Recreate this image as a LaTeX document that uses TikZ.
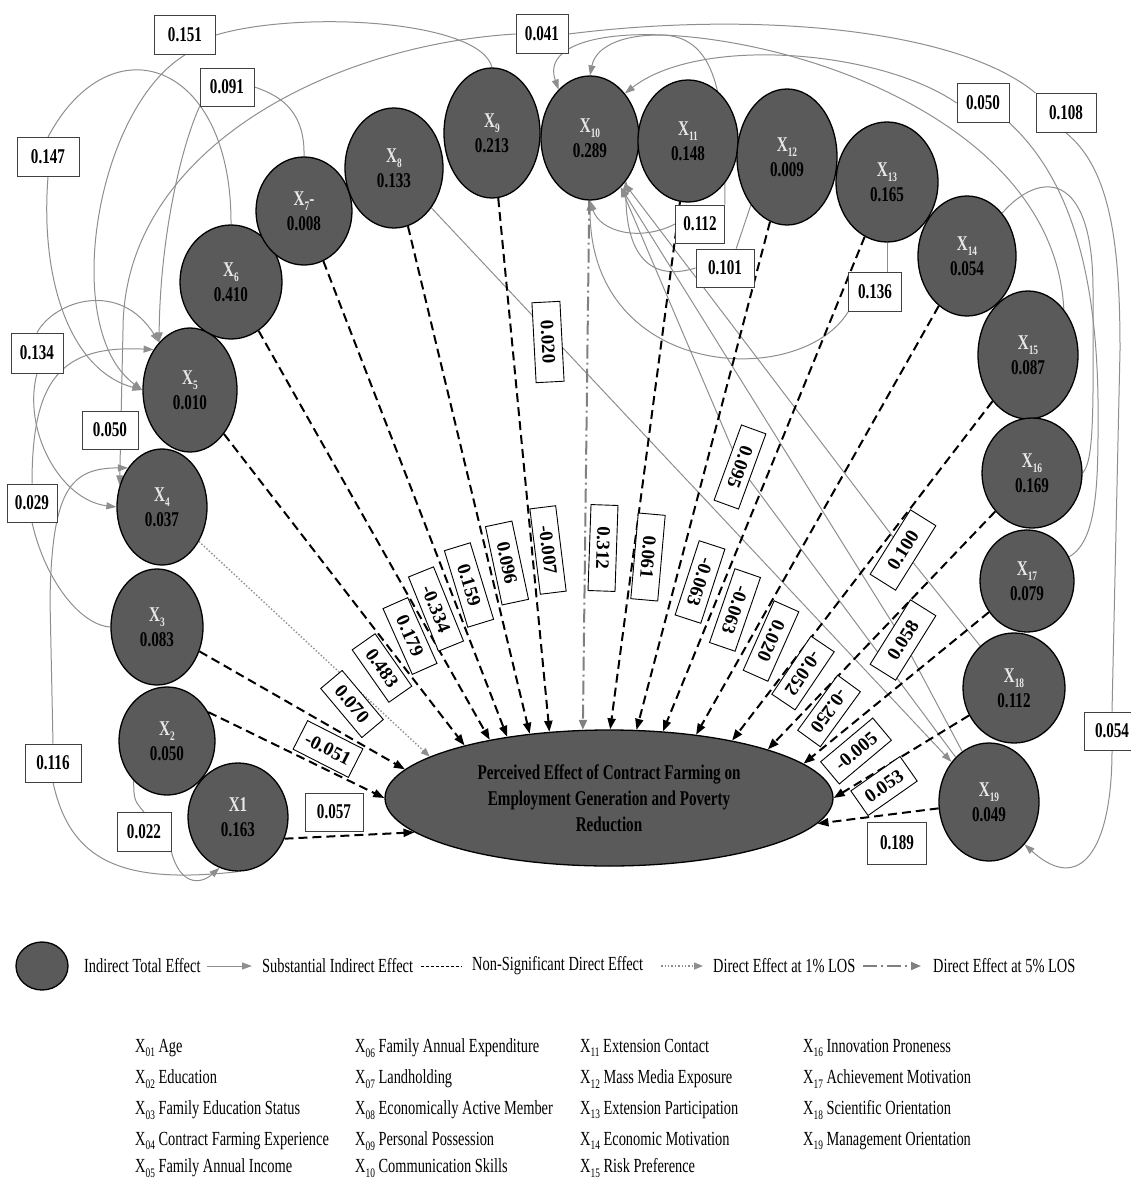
\documentclass[tikz,border=0pt]{standalone}
\usepackage{fontspec}
\setmainfont{Liberation Serif}
\newfontfamily\narrowf{Liberation Serif}[FakeStretch=0.72]
\usetikzlibrary{shapes.geometric,arrows.meta,backgrounds}
\definecolor{vgray}{HTML}{5A5A5A}
\definecolor{lgray}{HTML}{8E8E8E}
\definecolor{xlab}{HTML}{E8E8E8}
\newcommand{\xsub}[1]{X\raisebox{-0.5ex}{\fontsize{13}{13}\selectfont #1}}

\begin{document}
\begin{tikzpicture}[x=1pt,y=-1pt]
    \tikzstyle{var}=[shape=ellipse,draw=black,line width=1.3pt,fill=vgray,inner sep=0pt,align=center,font=\narrowf\bfseries\fontsize{21}{25}\selectfont]
    \tikzstyle{ibox}=[draw=black!75,fill=white,line width=0.8pt,inner sep=0pt,font=\narrowf\bfseries\fontsize{21}{21}\selectfont]
    \tikzstyle{fbox}=[draw=black,fill=white,line width=0.9pt,inner sep=0pt,minimum width=80pt,minimum height=28pt,font=\bfseries\fontsize{19}{19}\selectfont]
    \tikzstyle{direct}=[black,line width=2pt,dash pattern=on 9pt off 5pt,-{Triangle[length=11pt,width=8pt]}]
    \tikzstyle{ind}=[lgray,line width=1pt]
    \tikzstyle{indarr}=[ind,-{Triangle[length=10pt,width=7pt]}]
    \tikzstyle{sig1}=[lgray,line width=1.4pt,dotted,-{Triangle[length=9pt,width=7pt]}]
    \tikzstyle{sig5}=[gray,line width=2pt,dash pattern=on 14pt off 4pt on 2pt off 4pt,-{Triangle[length=10pt,width=8pt]}]
    \tikzstyle{lgfont}=[inner sep=0pt,font=\narrowf\fontsize{20}{24}\selectfont]
    \tikzstyle{vlist}=[anchor=west,inner sep=0pt,font=\narrowf\fontsize{20}{24}\selectfont]

    \useasboundingbox (0,0) rectangle (1130,1182);

    \node[var,minimum width=100pt,minimum height=108pt] at (238,817) (x1) {{\color{xlab}X1}\\0.163};
    \node[var,minimum width=96pt,minimum height=108pt] at (167,741) (x2) {{\color{xlab}\xsub{2}}\\0.050};
    \node[var,minimum width=92pt,minimum height=116pt] at (157,627) (x3) {{\color{xlab}\xsub{3}}\\0.083};
    \node[var,minimum width=90pt,minimum height=116pt] at (162,507) (x4) {{\color{xlab}\xsub{4}}\\0.037};
    \node[var,minimum width=94pt,minimum height=124pt] at (190,390) (x5) {{\color{xlab}\xsub{5}}\\0.010};
    \node[var,minimum width=102pt,minimum height=114pt] at (231,282) (x6) {{\color{xlab}\xsub{6}}\\0.410};
    \node[var,minimum width=96pt,minimum height=108pt] at (304,211) (x7) {{\color{xlab}\xsub{7}-}\\0.008};
    \node[var,minimum width=98pt,minimum height=120pt] at (394,168) (x8) {{\color{xlab}\xsub{8}}\\0.133};
    \node[var,minimum width=96pt,minimum height=130pt] at (492,133) (x9) {{\color{xlab}\xsub{9}}\\0.213};
    \node[var,minimum width=98pt,minimum height=124pt] at (590,138) (x10) {{\color{xlab}\xsub{10}}\\0.289};
    \node[var,minimum width=100pt,minimum height=122pt] at (688,141) (x11) {{\color{xlab}\xsub{11}}\\0.148};
    \node[var,minimum width=100pt,minimum height=136pt] at (787,157) (x12) {{\color{xlab}\xsub{12}}\\0.009};
    \node[var,minimum width=102pt,minimum height=120pt] at (887,182) (x13) {{\color{xlab}\xsub{13}}\\0.165};
    \node[var,minimum width=98pt,minimum height=120pt] at (967,256) (x14) {{\color{xlab}\xsub{14}}\\0.054};
    \node[var,minimum width=100pt,minimum height=128pt] at (1028,355) (x15) {{\color{xlab}\xsub{15}}\\0.087};
    \node[var,minimum width=100pt,minimum height=110pt] at (1032,473) (x16) {{\color{xlab}\xsub{16}}\\0.169};
    \node[var,minimum width=94pt,minimum height=102pt] at (1027,581) (x17) {{\color{xlab}\xsub{17}}\\0.079};
    \node[var,minimum width=102pt,minimum height=110pt] at (1014,688) (x18) {{\color{xlab}\xsub{18}}\\0.112};
    \node[var,minimum width=100pt,minimum height=118pt] at (989,802) (x19) {{\color{xlab}\xsub{19}}\\0.049};

    \node[var,minimum width=448pt,minimum height=136pt,font=\narrowf\bfseries\fontsize{21}{26}\selectfont] at (609,798) (pe) {Perceived Effect of Contract Farming on\\Employment Generation and Poverty\\Reduction};

    \node[ibox,minimum width=61pt,minimum height=39pt] at (185,35) (b151) {0.151};
    \node[ibox,minimum width=54pt,minimum height=38pt] at (227,87) (b091) {0.091};
    \node[ibox,minimum width=62pt,minimum height=39pt] at (48,157) (b147) {0.147};
    \node[ibox,minimum width=52pt,minimum height=40pt] at (37,353) (b134) {0.134};
    \node[ibox,minimum width=56pt,minimum height=38pt] at (110,430) (b050l) {0.050};
    \node[ibox,minimum width=50pt,minimum height=38pt] at (32,503) (b029) {0.029};
    \node[ibox,minimum width=56pt,minimum height=38pt] at (53,763) (b116) {0.116};
    \node[ibox,minimum width=54pt,minimum height=39pt] at (144,832) (b022) {0.022};
    \node[ibox,minimum width=52pt,minimum height=39pt] at (542,34) (b041) {0.041};
    \node[ibox,minimum width=52pt,minimum height=39pt] at (983,103) (b050r) {0.050};
    \node[ibox,minimum width=60pt,minimum height=39pt] at (1066,113) (b108) {0.108};
    \node[ibox,minimum width=49pt,minimum height=38pt] at (700,224) (b112) {0.112};
    \node[ibox,minimum width=58pt,minimum height=38pt] at (725,268) (b101) {0.101};
    \node[ibox,minimum width=53pt,minimum height=39pt] at (875,292) (b136) {0.136};
    \node[ibox,minimum width=56pt,minimum height=38pt] at (1112,731) (b054) {0.054};
    \node[fbox,rotate=-87] at (548,342) (b020) {0.020};
    \node[fbox,rotate=-110,minimum height=26pt] at (740,467) (b095) {0.095};
    \node[fbox,rotate=58,minimum width=76pt,minimum height=30pt] at (903,550) (b100) {0.100};
    \node[fbox,rotate=58,minimum width=76pt,minimum height=30pt] at (903,640) (b058) {0.058};

    \node[ibox,minimum width=58pt,minimum height=38pt] at (334,812) (d1) {0.057};
    \node[fbox,rotate=-27,minimum width=62pt,minimum height=32pt] at (328,749) (d2) {-0.051};
    \node[fbox,rotate=-50,minimum width=64pt,minimum height=28pt] at (352,704) (d3) {0.070};
    \node[fbox,rotate=-55,minimum width=64pt,minimum height=28pt] at (382,668) (d4) {0.483};
    \node[fbox,rotate=-66,minimum width=72pt,minimum height=27pt] at (410,636) (d5) {0.179};
    \node[fbox,rotate=-68,minimum height=27pt] at (436,609) (d6) {-0.334};
    \node[fbox,rotate=-73,minimum height=27pt] at (469,585) (d7) {0.159};
    \node[fbox,rotate=-78,minimum height=27pt] at (507,563) (d8) {0.096};
    \node[fbox,rotate=-83,minimum width=86pt,minimum height=26pt] at (548,550) (d9) {-0.007};
    \node[fbox,rotate=-92,minimum width=86pt,minimum height=27pt] at (603,548) (d10) {0.312};
    \node[fbox,rotate=-95,minimum width=86pt,minimum height=27pt] at (648,557) (d11) {0.061};
    \node[fbox,rotate=-108,minimum width=78pt,minimum height=27pt] at (700,582) (d12) {-0.063};
    \node[fbox,rotate=-109,minimum width=78pt,minimum height=27pt] at (735,610) (d13) {-0.063};
    \node[fbox,rotate=-114,minimum width=76pt,minimum height=27pt] at (771,641) (d14) {0.020};
    \node[fbox,rotate=-124,minimum width=70pt,minimum height=28pt] at (803,673) (d15) {-0.052};
    \node[fbox,rotate=-126,minimum width=68pt,minimum height=28pt] at (829,711) (d16) {-0.250};
    \node[fbox,rotate=40,minimum width=68pt,minimum height=29pt] at (856,751) (d17) {-0.005};
    \node[fbox,rotate=35,minimum width=60pt,minimum height=30pt] at (884,786) (d18) {0.053};
    \node[ibox,minimum width=59pt,minimum height=42pt] at (897,843) (d19) {0.189};

    \begin{pgfonlayer}{background}
    \draw[ind] (x9.north) .. controls (480,20) and (300,10) .. (b151.east);
    \draw[indarr] (b151.south) .. controls (95,110) and (60,330) .. (x5.west);
    \draw[ind] (x6.north) .. controls (232,60) and (110,20) .. (b147.north);
    \draw[indarr] (b147.south) .. controls (40,280) and (70,370) .. (x5.west);
    \draw[ind] (x7.north) .. controls (305,115) and (285,97) .. (b091.east);
    \draw[indarr] (b091.south west) .. controls (180,150) and (160,240) .. (x5.123);
    \draw[indarr] (b041.west) .. controls (330,45) and (123,150) .. (123,330) -- (x4.153);
    \draw[ind] (b108.north west) .. controls (960,30) and (760,10) .. (b041.east);
    \draw[ind] (b108.south) .. controls (1112,170) and (1120,250) .. (1120,350) -- (b054.north);
    \draw[indarr] (b054.south) .. controls (1112,850) and (1080,895) .. (x19.-50);
    \draw[indarr] (b134.north) .. controls (55,300) and (120,280) .. (x5.123);
    \draw[indarr] (b134.south) .. controls (22,430) and (60,500) .. (x4.west);
    \draw[ind] (x3.west) .. controls (80,625) and (45,580) .. (b029.south);
    \draw[indarr] (b029.north) .. controls (32,380) and (60,345) .. (x5.132);
    \draw[ind] (x1.south) .. controls (120,885) and (70,860) .. (b116.south);
    \draw[indarr] (b116.north) -- (50,600) .. controls (52,490) and (70,468) .. (x4.131);
    \draw[ind] (x2.230) .. controls (134,800) .. (b022.north);
    \draw[indarr] (b022.south east) .. controls (180,885) and (200,885) .. (x1.-110);
    \draw[ind] (x17.30) .. controls (1100,540) and (1098,470) .. (1098,400) .. controls (1096,250) and (1060,170) .. (b050r.south east);
    \draw[indarr] (b050r.west) .. controls (880,50) and (700,35) .. (x10.52);
    \draw[indarr] (x15.north east) .. controls (1050,40) and (520,-20) .. (x10.123);
    \draw[ind] (x14.north east) .. controls (1040,170) and (1093,170) .. (1093,290) .. controls (1093,400) and (1095,460) .. (x16.east);
    \draw[indarr] (b112.west) .. controls (640,242) and (600,232) .. (x10.south);
    \draw[indarr] (b112.north east) .. controls (725,110) and (722,35) .. (660,35) .. controls (615,35) and (595,50) .. (x10.north);
    \draw[ind] (x12.233) -- (b101.60);
    \draw[indarr] (b101.west) .. controls (640,285) and (625,240) .. (x10.-50);
    \draw[ind] (x13.south) -- (b136.north -| x13.south);
    \draw[indarr] (b136.south west) .. controls (800,390) and (590,380) .. (x10.south);
    \draw[indarr] (x8) -- (x19);
    \draw[indarr] (x18) -- (b100) -- (x10);
    \draw[indarr] (x19) -- (b058) -- (x10);
    \draw[indarr] (x19) -- (b095) -- (x10.-58);

    \draw[direct] (x1.-25) -- (pe.190);
    \draw[direct] (x2.35) -- (pe.180);
    \draw[direct] (x3) -- (pe.172);
    \draw[sig1] (x4) -- (pe.167);
    \draw[direct] (x5) -- (pe.160);
    \draw[direct] (x6) -- (pe.154);
    \draw[direct] (x7) -- (pe.149);
    \draw[direct] (x8) -- (pe.141);
    \draw[direct] (x9) -- (pe.132);
    \draw[sig5] (x10) -- (pe.111);
    \draw[direct] (x11) -- (pe.89);
    \draw[direct] (x12) -- (pe.68);
    \draw[direct] (x13) -- (pe.51);
    \draw[direct] (x14) -- (pe.36);
    \draw[direct] (x15) -- (pe.25);
    \draw[direct] (x16) -- (pe.17);
    \draw[direct] (x17) -- (pe.10);
    \draw[direct] (x18) -- (pe.0);
    \draw[direct] (x19) -- (pe.-7);
    \end{pgfonlayer}

    \node[var,minimum width=52pt,minimum height=48pt] at (42,966) (lg0) {};
    \node[lgfont,anchor=west] at (84,966) (lg1) {Indirect Total Effect};
    \node[lgfont,anchor=west] at (262,966) (lg2) {Substantial Indirect Effect};
    \node[lgfont,anchor=west] at (472,966) (lg3) {Non-Significant Direct Effect};
    \node[lgfont,anchor=west] at (713,966) (lg4) {Direct Effect at 1\% LOS};
    \node[lgfont,anchor=west] at (933,966) (lg5) {Direct Effect at 5\% LOS};
    \draw[indarr] ([xshift=6pt]lg1.east) -- ([xshift=-10pt]lg2.west);
    \draw[black,line width=1pt,dash pattern=on 3pt off 2pt] ([xshift=8pt]lg2.east) -- ([xshift=-10pt]lg3.west);
    \draw[sig1] ([xshift=18pt]lg3.east) -- ([xshift=-10pt]lg4.west);
    \draw[sig5] ([xshift=8pt]lg4.east) -- ([xshift=-12pt]lg5.west);

    \node[vlist] at (135,1048) (v01) {\xsub{01} Age};
    \node[vlist] at (135,1079) (v02) {\xsub{02} Education};
    \node[vlist] at (135,1110) (v03) {\xsub{03} Family Education Status};
    \node[vlist] at (135,1141) (v04) {\xsub{04} Contract Farming Experience};
    \node[vlist] at (135,1168) (v05) {\xsub{05} Family Annual Income};
    \node[vlist] at (355,1048) (v06) {\xsub{06} Family Annual Expenditure};
    \node[vlist] at (355,1079) (v07) {\xsub{07} Landholding};
    \node[vlist] at (355,1110) (v08) {\xsub{08} Economically Active Member};
    \node[vlist] at (355,1141) (v09) {\xsub{09} Personal Possession};
    \node[vlist] at (355,1168) (v10) {\xsub{10} Communication Skills};
    \node[vlist] at (580,1048) (v11) {\xsub{11} Extension Contact};
    \node[vlist] at (580,1079) (v12) {\xsub{12} Mass Media Exposure};
    \node[vlist] at (580,1110) (v13) {\xsub{13} Extension Participation};
    \node[vlist] at (580,1141) (v14) {\xsub{14} Economic Motivation};
    \node[vlist] at (580,1168) (v15) {\xsub{15} Risk Preference};
    \node[vlist] at (803,1048) (v16) {\xsub{16} Innovation Proneness};
    \node[vlist] at (803,1079) (v17) {\xsub{17} Achievement Motivation};
    \node[vlist] at (803,1110) (v18) {\xsub{18} Scientific Orientation};
    \node[vlist] at (803,1141) (v19) {\xsub{19} Management Orientation};
\end{tikzpicture}
\end{document}
